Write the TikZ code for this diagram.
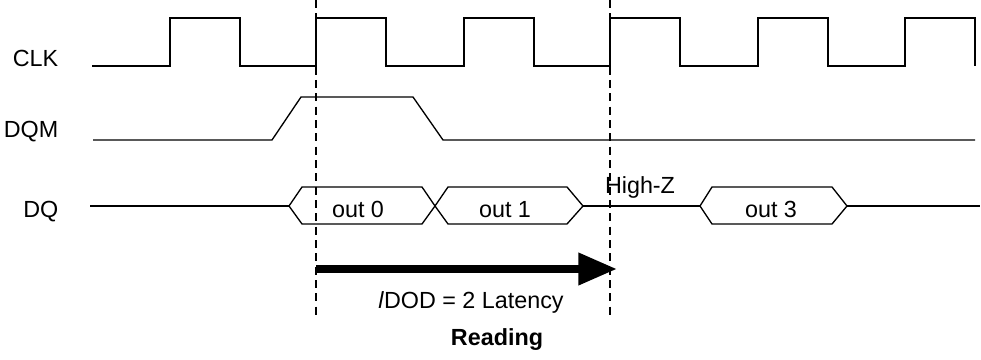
\documentclass[tikz,border=0pt]{standalone}
\usepackage{fontspec}
\setmainfont{Liberation Sans}
\usetikzlibrary{arrows.meta}

\begin{document}
\begin{tikzpicture}[
  x=0.75pt, y=-0.75pt,
  wave/.style={line width=1pt, line join=miter},
  guide/.style={dash pattern=on 6pt off 4pt, line width=0.8pt},
  siglab/.style={anchor=base east, font=\fontsize{17.5}{20}\selectfont},
  buslab/.style={anchor=base, font=\fontsize{17.5}{20}\selectfont},
  latency/.style={-{Triangle[length=29pt,width=23pt]}, line width=6pt},
]
\useasboundingbox (0,0) rectangle (981,360);

% ---------- signal names ----------
\node[siglab] (clk) at (63,66)  {CLK};
\node[siglab] (dqm) at (63,137) {DQM};
\node[siglab] (dq)  at (63,217) {DQ};

% ---------- CLK ----------
\draw[wave] (92,66) \foreach \x in {170,316,464,610,758,905} {
  -- (\x,66) -- (\x,18) -- (\x+70,18) -- (\x+70,66) };

% ---------- DQM ----------
\draw[wave] (93,140) -- (272,140) -- (301,97) -- (413,97) -- (443,140) -- (975,140);

% ---------- DQ ----------
\draw[wave] (90,206) -- (289,206);
\draw[wave] (289,206) -- (302,187) -- (422,187) -- (435,206) -- (422,224) -- (302,224) -- cycle;
\draw[wave] (435,206) -- (448,187) -- (567,187) -- (583,206) -- (567,224) -- (448,224) -- cycle;
\draw[wave] (583,206) -- (700,206);
\draw[wave] (700,206) -- (712,187) -- (832,187) -- (847,206) -- (832,224) -- (712,224) -- cycle;
\draw[wave] (847,206) -- (980,206);

\node[buslab] (out0) at (358,217) {out 0};
\node[buslab] (out1) at (505,217) {out 1};
\node[buslab] (out3) at (771,217) {out 3};
\node[buslab] (hiz)  at (640,193) {High-Z};

% ---------- edges of interest ----------
\coordinate (e1top) at (316,0);
\coordinate (e1bot) at (316,315);
\coordinate (e2top) at (610,0);
\coordinate (e2bot) at (610,315);
\draw[guide] (e1top) -- (e1bot);
\draw[guide] (e2top) -- (e2bot);

% ---------- latency ----------
\coordinate (lat0) at (316,269);
\coordinate (lat1) at (617,269);
\draw[latency] (lat0) -- (lat1);
\node[buslab] (lat) at (471,308) {\textit{l}DOD = 2 Latency};

\node[buslab, font=\fontsize{17.5}{20}\selectfont\bfseries] (title) at (497,345) {Reading};
\end{tikzpicture}
\end{document}
